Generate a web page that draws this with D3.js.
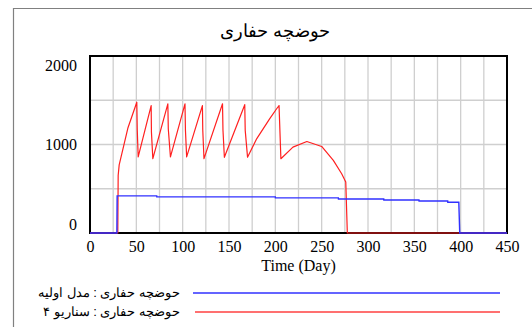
<!DOCTYPE html>
<html><head><meta charset="utf-8">
<script src="https://cdn.jsdelivr.net/npm/d3@7"></script>
<style>body{margin:0;background:#fff}svg{display:block}</style>
</head><body>
<script>
const title = "حوضچه حفاری";
const xLabel = "Time (Day)";
const xTicks = [0,50,100,150,200,250,300,350,400,450];
const yTicks = [0,1000,2000];
const seriesNames = ["حوضچه حفاری : مدل اولیه", "حوضچه حفاری : سناریو ۴"];

const blueDays   = [0, 29, 29.3, 72, 72.1, 200, 200.1, 268, 268.1, 317, 317.1, 355, 355.1, 386, 386.1, 398, 399, 450];
const blueValues = [0, 0, 420, 420, 408, 408, 397, 397, 385, 385, 373, 373, 362, 362, 348, 348, 0, 0];

const redDays   = [0, 30, 30.4, 31.5, 41, 50.5, 51, 52, 66, 66.3, 67.8, 84, 84.5, 86.8, 102.5, 103, 104.3, 121.3, 121.7, 123, 143, 143.5, 145, 167, 167.5, 170, 180, 194, 201.4, 204, 206, 219, 234, 250, 262.6, 271.6, 276, 277.7, 450];
const redValues = [0, 0, 650, 770, 1190, 1478, 1165, 860, 1440, 1140, 840, 1460, 1175, 860, 1460, 1160, 860, 1440, 1160, 840, 1460, 1160, 855, 1450, 1160, 857, 1067, 1292, 1404, 1440, 839, 970, 1034, 978, 820, 670, 576, 0, 0];

const W = 532, H = 327;
const m = {left: 90, right: 507, top: 56, bottom: 233};
const svg = d3.select("body").append("svg").attr("width", W).attr("height", H);

// outer frame
svg.append("path").attr("d", `M13.5,${H} L13.5,8.5 L${W},8.5`).attr("fill","none").attr("stroke","#808080").attr("stroke-width",1.2);

const x = d3.scaleLinear().domain([0,450]).range([m.left, m.right]);
const y = d3.scaleLinear().domain([0,2000]).range([m.bottom, m.top]);

// grid
const g = svg.append("g");
g.selectAll("line.v").data(d3.range(25,450,25)).join("line")
  .attr("x1", d=>x(d)).attr("x2", d=>x(d)).attr("y1", m.top).attr("y2", m.bottom)
  .attr("stroke","#cfcfcf").attr("stroke-width",1.3);
g.selectAll("line.h").data(d3.range(500,2000,500)).join("line")
  .attr("y1", d=>y(d)).attr("y2", d=>y(d)).attr("x1", m.left).attr("x2", m.right)
  .attr("stroke","#cfcfcf").attr("stroke-width",1.3);

// frame
svg.append("rect").attr("x", m.left).attr("y", m.top).attr("width", m.right-m.left).attr("height", m.bottom-m.top)
  .attr("fill","none").attr("stroke","#000").attr("stroke-width",2);

const line = d3.line().x(d=>x(d[0])).y(d=>y(d[1]));
const redData = redDays.map((d,i)=>[d, redValues[i]]);
const blueData = blueDays.map((d,i)=>[d, blueValues[i]]);
svg.append("path").attr("d", line(redData)).attr("fill","none").attr("stroke","#ff2020").attr("stroke-width",1.2).attr("stroke-linejoin","round");
svg.append("path").attr("d", line(blueData)).attr("fill","none").attr("stroke","#3030ff").attr("stroke-width",1.4);

// x axis labels
const xAxis = d3.axisBottom(x).tickValues(xTicks).tickFormat(d3.format("d")).tickSize(0).tickPadding(0);
const xa = svg.append("g").attr("transform", `translate(0,${m.bottom + 8})`).call(xAxis);
xa.select(".domain").remove();
xa.selectAll("text").attr("font-family","'Liberation Serif', 'Times New Roman', serif").attr("font-size",16).attr("fill","#000").attr("dy","0.71em");

// y axis labels
const ya = svg.append("g").attr("transform", `translate(${m.left-13},0)`)
  .call(d3.axisLeft(y).tickValues(yTicks).tickFormat(d3.format("d")).tickSize(0).tickPadding(0));
ya.select(".domain").remove();
ya.selectAll("text").attr("font-family","'Liberation Serif', 'Times New Roman', serif").attr("font-size",16).attr("fill","#000")
  .attr("transform", d => d===2000 ? "translate(0,9)" : d===0 ? "translate(0,-9)" : null);

// title
svg.append("text").attr("x", 275).attr("y", 37).attr("text-anchor","middle")
  .attr("font-family","'Liberation Sans', Arial, sans-serif").attr("font-size",18).attr("fill","#000").text(title);

// x label
svg.append("text").attr("x", (m.left+m.right)/2).attr("y", 271).attr("text-anchor","middle")
  .attr("font-family","'Liberation Serif', 'Times New Roman', serif").attr("font-size",16).attr("fill","#000").text(xLabel);

// legend
const legColors = ["#3030ff", "#ff4040"];
const legY = [293, 312];
seriesNames.forEach((name,i)=>{
  svg.append("text").attr("x", 180).attr("y", legY[i]+4).attr("text-anchor","end")
    .attr("font-family","'Liberation Sans', Arial, sans-serif").attr("font-size",13).attr("fill","#000").text(name);
  svg.append("line").attr("x1", i===0?193:195).attr("x2", 500).attr("y1", legY[i]).attr("y2", legY[i])
    .attr("stroke", legColors[i]).attr("stroke-width",1.3);
});
</script>
</body></html>
